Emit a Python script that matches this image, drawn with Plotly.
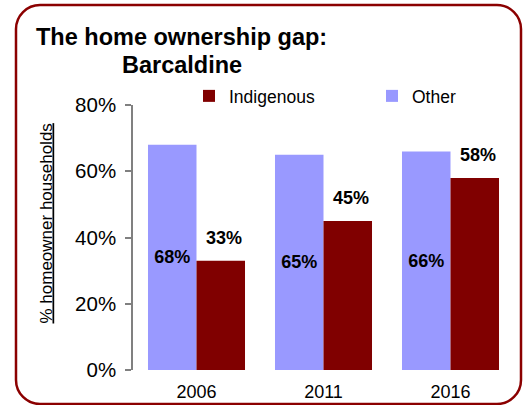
import plotly.graph_objects as go

# Census years and share of households that own their home
years = ["2006", "2011", "2016"]
other_share = [0.68, 0.65, 0.66]
indigenous_share = [0.33, 0.45, 0.58]

y_ticks = [0, 0.2, 0.4, 0.6, 0.8]
y_tick_text = ["0%", "20%", "40%", "60%", "80%"]

OTHER_COLOR = "#9999FF"
INDIG_COLOR = "#800000"
BORDER_COLOR = "#8B0000"

W, H = 528, 405
ML, MR, MT, MB = 133, 14, 105, 35
PW = W - ML - MR
PH = H - MT - MB


def px_x(px):
    return (px - ML) / PW


def px_y(py):
    return (H - MB - py) / PH


fig = go.Figure()

fig.add_trace(go.Bar(
    x=years, y=other_share, name="Other", legend="legend2",
    marker=dict(color=OTHER_COLOR, line=dict(width=0)),
    texttemplate="%{y:.0%}", textposition="inside", insidetextanchor="middle",
    textfont=dict(family="Liberation Sans, Arial", size=18, color="black", weight="bold"),
    hoverinfo="skip",
))
fig.add_trace(go.Bar(
    x=years, y=indigenous_share, name="Indigenous", legend="legend",
    marker=dict(color=INDIG_COLOR, line=dict(width=0)),
    hoverinfo="skip",
))

# value labels above the Indigenous bars (x given as category index)
annotations = []
for i, v in enumerate(indigenous_share):
    annotations.append(dict(
        x=i, y=v, xref="x", yref="y", text=f"<b>{v:.0%}</b>", showarrow=False,
        xshift=27, yshift=23,
        font=dict(family="Liberation Sans, Arial", size=18, color="black"),
    ))

# chart title (two centred lines)
annotations.append(dict(
    x=px_x(181.5), y=px_y(37), xref="paper", yref="paper",
    text="<b>The home ownership gap:</b>", showarrow=False,
    xanchor="center", yanchor="middle",
    font=dict(family="Liberation Sans, Arial", size=23.5, color="black"),
))
annotations.append(dict(
    x=px_x(181.5), y=px_y(65), xref="paper", yref="paper",
    text="<b>Barcaldine</b>", showarrow=False,
    xanchor="center", yanchor="middle",
    font=dict(family="Liberation Sans, Arial", size=23.5, color="black"),
))
# y-axis title
annotations.append(dict(
    x=px_x(46), y=px_y(223.5), xref="paper", yref="paper",
    text="<u>% homeowner households</u>", showarrow=False, textangle=-90,
    xanchor="center", yanchor="middle",
    font=dict(family="Liberation Sans, Arial", size=17, color="black"),
))

# rounded frame around the whole chart
L, R, T, B, r = 16, 521, 5, 404, 24
k = 0.552 * r


def pt(x, y):
    return f"{px_x(x):.5f},{px_y(y):.5f}"


frame = (
    f"M {pt(L + r, T)} L {pt(R - r, T)} "
    f"C {pt(R - r + k, T)} {pt(R, T + r - k)} {pt(R, T + r)} "
    f"L {pt(R, B - r)} "
    f"C {pt(R, B - r + k)} {pt(R - r + k, B)} {pt(R - r, B)} "
    f"L {pt(L + r, B)} "
    f"C {pt(L + r - k, B)} {pt(L, B - r + k)} {pt(L, B - r)} "
    f"L {pt(L, T + r)} "
    f"C {pt(L, T + r - k)} {pt(L + r - k, T)} {pt(L + r, T)} Z"
)

legend_font = dict(family="Liberation Sans, Arial", size=17.5, color="black")

fig.update_layout(
    width=W, height=H,
    margin=dict(l=ML, r=MR, t=MT, b=MB, pad=0, autoexpand=False),
    paper_bgcolor="white", plot_bgcolor="white",
    barmode="group", bargap=0.236, bargroupgap=0,
    font=dict(family="Liberation Sans, Arial", color="black"),
    showlegend=True,
    legend=dict(
        orientation="h", x=px_x(189), xanchor="left", y=px_y(96), yanchor="middle",
        font=legend_font, bgcolor="rgba(0,0,0,0)", borderwidth=0,
    ),
    legend2=dict(
        orientation="h", x=px_x(372), xanchor="left", y=px_y(96), yanchor="middle",
        font=legend_font, bgcolor="rgba(0,0,0,0)", borderwidth=0,
    ),
    xaxis=dict(
        type="category", automargin=False,
        showline=False, ticks="", showgrid=False, zeroline=False,
        tickfont=dict(size=18, color="black"), ticklabelstandoff=9,
    ),
    yaxis=dict(
        range=[0, 0.8], tickvals=y_ticks, ticktext=y_tick_text, automargin=False,
        showline=True, linecolor="#808080", linewidth=1.5,
        ticks="outside", ticklen=6, tickcolor="#808080", tickwidth=1.5,
        showgrid=False, zeroline=False,
        tickfont=dict(size=20.5, color="black"), ticklabelstandoff=5,
    ),
    annotations=annotations,
    shapes=[dict(type="path", path=frame, xref="paper", yref="paper",
                 line=dict(color=BORDER_COLOR, width=2.5), layer="above")],
)

fig.write_html("out.html")
